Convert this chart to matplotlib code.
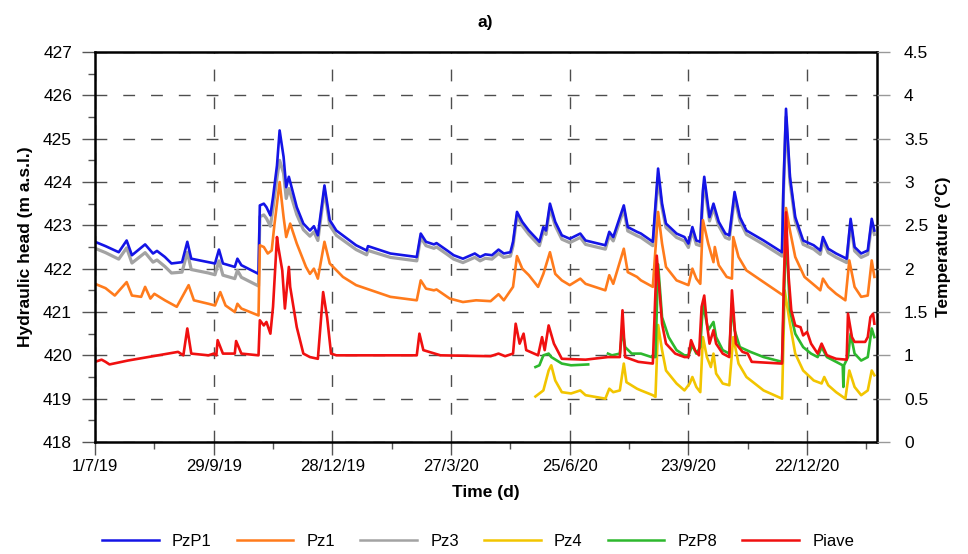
import numpy as np
import pandas as pd
import matplotlib
matplotlib.use('Agg')
import matplotlib.pyplot as plt
import matplotlib.dates as mdates
from matplotlib.lines import Line2D
from matplotlib.ticker import FormatStrFormatter

plt.rcParams['font.family'] = ['Liberation Sans', 'DejaVu Sans']

START = pd.Timestamp('2019-07-01')
END_DAY = 593

# time axis ticks (days since 1/7/19)
tick_days = [0, 90, 180, 270, 360, 450, 540]
tick_labels = ['1/7/19', '29/9/19', '28/12/19', '27/3/20', '25/6/20', '23/9/20', '22/12/20']
minor_days = [45, 135, 225, 315, 405, 495, 585]

# PzP1 and Pz3 are logged on the same days
head_day = [0, 8, 18, 24, 28, 38, 44, 47, 53, 58, 66, 70, 73, 86, 91, 94, 97, 106, 108, 111,
            124, 125, 128, 130, 133, 135, 138, 140, 143, 145, 147, 153, 158, 163, 166, 169, 174,
            178, 183, 198, 206, 207, 224, 244, 247, 251, 257, 259, 267, 272, 279, 288, 292,
            296, 301, 306, 310, 315, 317, 320, 324, 329, 337, 340, 342, 345, 349, 354, 360,
            368, 372, 387, 390, 393, 401, 404, 411, 414, 423, 427, 430, 433, 441, 447, 450,
            453, 456, 459, 461, 462, 466, 469, 473, 478, 481, 485, 489, 494, 507, 521, 522,
            524, 527, 531, 537, 545, 550, 552, 556, 562, 570, 573, 576, 581, 586, 589, 591]
pzp1 = [422.62, 422.52, 422.38, 422.65, 422.31, 422.56, 422.35, 422.41, 422.27, 422.12, 422.15,
        422.62, 422.23, 422.15, 422.12, 422.44, 422.12, 422.04, 422.23, 422.08, 421.88,
        423.46, 423.50, 423.42, 423.23, 423.65, 424.38, 425.19, 424.58, 423.88, 424.12, 423.42,
        423.04, 422.88, 422.98, 422.77, 423.92, 423.12, 422.88, 422.54, 422.42, 422.52, 422.35,
        422.27, 422.81, 422.62, 422.56, 422.59, 422.42, 422.31, 422.23, 422.35, 422.27, 422.33,
        422.31, 422.44, 422.35, 422.38, 422.62, 423.31, 423.08, 422.88, 422.62, 422.96, 422.88,
        423.50, 423.08, 422.77, 422.69, 422.81, 422.65, 422.54, 422.85, 422.73, 423.46, 422.96,
        422.85, 422.81, 422.62, 424.31, 423.50, 423.04, 422.81, 422.73, 422.58, 422.96, 422.65,
        422.62, 423.81, 424.12, 423.19, 423.50, 423.08, 422.81, 422.77, 423.77, 423.19, 422.88,
        422.65, 422.38, 423.81, 425.69, 424.12, 423.19, 422.65, 422.54, 422.42, 422.73, 422.46,
        422.35, 422.23, 423.15, 422.50, 422.35, 422.42, 423.15, 422.88]
pz3 = [422.47, 422.37, 422.22, 422.48, 422.13, 422.37, 422.15, 422.20, 422.05, 421.90, 421.92,
       422.38, 421.98, 421.90, 421.86, 422.18, 421.85, 421.77, 421.96, 421.80, 421.60,
       423.20, 423.24, 423.16, 422.98, 423.40, 424.10, 424.50, 424.20, 423.62, 423.85, 423.25,
       422.90, 422.75, 422.85, 422.65, 423.80, 423.00, 422.77, 422.44, 422.32, 422.42, 422.26,
       422.18, 422.72, 422.53, 422.47, 422.50, 422.33, 422.22, 422.14, 422.26, 422.18, 422.24,
       422.22, 422.35, 422.26, 422.29, 422.53, 423.22, 422.99, 422.79, 422.53, 422.87, 422.79,
       423.40, 422.99, 422.68, 422.60, 422.72, 422.56, 422.45, 422.76, 422.64, 423.37, 422.87,
       422.76, 422.72, 422.53, 424.10, 423.40, 422.95, 422.72, 422.64, 422.49, 422.87, 422.56,
       422.53, 423.70, 423.95, 423.10, 423.40, 422.99, 422.72, 422.68, 423.65, 423.10, 422.79,
       422.56, 422.29, 423.70, 425.50, 424.00, 423.10, 422.56, 422.45, 422.33, 422.64, 422.37,
       422.26, 422.14, 423.05, 422.41, 422.26, 422.33, 423.05, 422.79]

pz1_day = [0, 8, 15, 24, 28, 35, 38, 42, 45, 53, 62, 71, 75, 86, 91, 95, 99, 106, 108, 111, 124,
           125, 128, 131, 134, 136, 140, 143, 145, 148, 153, 160, 163, 166, 169, 174, 178, 188,
           198, 224, 244, 247, 251, 257, 259, 269, 279, 289, 300, 306, 310, 317, 320, 324, 329,
           336, 340, 345, 349, 354, 360, 368, 372, 387, 390, 393, 401, 404, 411, 414, 423, 427,
           430, 433, 441, 450, 453, 456, 459, 461, 465, 469, 470, 473, 479, 483, 484, 488, 494,
           507, 522, 524, 527, 531, 538, 547, 550, 552, 556, 562, 569, 572, 576, 581, 586, 589, 591]
pz1 = [421.65, 421.55, 421.38, 421.69, 421.38, 421.35, 421.58, 421.31, 421.42, 421.27, 421.12,
       421.62, 421.27, 421.19, 421.15, 421.46, 421.15, 421.00, 421.19, 421.08, 420.92,
       422.54, 422.50, 422.35, 422.42, 423.00, 424.00, 423.19, 422.73, 423.04, 422.58, 422.04,
       421.88, 422.00, 421.77, 422.62, 422.12, 421.81, 421.62, 421.35, 421.27, 421.73, 421.54,
       421.50, 421.52, 421.31, 421.23, 421.27, 421.25, 421.41, 421.27, 421.58, 422.29, 422.00,
       421.85, 421.58, 421.88, 422.38, 421.88, 421.73, 421.62, 421.77, 421.65, 421.50, 421.85,
       421.65, 422.46, 421.92, 421.81, 421.73, 421.58, 423.31, 422.58, 422.04, 421.73, 421.62,
       422.00, 421.77, 421.65, 423.12, 422.58, 422.15, 422.50, 422.08, 421.81, 421.77, 422.73,
       422.27, 421.96, 421.69, 421.38, 423.40, 422.88, 422.27, 421.81, 421.58, 421.50, 421.77,
       421.58, 421.42, 421.27, 422.19, 421.58, 421.35, 421.38, 422.19, 421.81]

piave_day = [0, 5, 8, 11, 25, 63, 67, 70, 73, 86, 90, 92, 93, 97, 106, 107, 111, 124, 125, 128,
             130, 133, 135, 138, 139, 142, 144, 147, 148, 153, 158, 163, 169, 173, 176, 179, 183,
             244, 246, 249, 262, 300, 306, 311, 317, 319, 322, 325, 327, 336, 339, 341, 344, 348,
             354, 372, 389, 398, 400, 402, 412, 423, 426, 430, 433, 440, 447, 450, 452, 455, 458,
             460, 462, 464, 466, 469, 471, 476, 481, 483, 486, 491, 495, 498, 521, 522, 524, 526,
             528, 531, 535, 537, 540, 543, 548, 551, 555, 562, 570, 571, 574, 576, 584, 586, 588,
             590, 591]
piave = [419.85, 419.90, 419.85, 419.79, 419.88, 420.08, 420.00, 420.62, 420.04, 420.00, 420.04,
         420.00, 420.35, 420.04, 420.04, 420.33, 420.04, 420.00, 420.81, 420.69, 420.77, 420.50,
         421.12, 422.73, 422.50, 421.96, 421.08, 422.04, 421.58, 420.65, 420.04, 419.96, 419.92,
         421.46, 420.88, 420.04, 420.00, 420.00, 420.50, 420.12, 420.00, 419.98, 420.04, 419.98,
         420.04, 420.73, 420.27, 420.50, 420.12, 420.00, 420.42, 420.12, 420.69, 420.27, 419.92,
         419.90, 419.96, 419.96, 421.04, 419.96, 419.85, 419.81, 422.30, 420.73, 420.27, 420.04,
         419.96, 419.96, 420.35, 420.12, 420.00, 421.12, 421.38, 420.73, 420.27, 420.58, 420.27,
         420.04, 419.96, 421.50, 420.27, 420.08, 420.04, 419.85, 419.81, 421.19, 423.30, 421.81,
         421.04, 420.69, 420.65, 420.46, 420.54, 420.27, 420.04, 420.27, 420.00, 419.92, 419.90,
         420.96, 420.42, 420.31, 420.31, 420.42, 420.88, 420.96, 420.73]

# PzP8 has a gap in the record (nan)
pzp8_day = [334, 337, 340, 344, 346, 354, 361, 374, 375, 389, 392, 398, 400, 402, 407, 414, 422,
            425, 427, 430, 435, 441, 447, 450, 453, 456, 459, 461, 465, 469, 471, 476, 481, 483,
            485, 489, 497, 507, 521, 524, 527, 531, 537, 543, 548, 551, 555, 562, 567, 567.5,
            568, 571, 573, 576, 581, 586, 589, 591]
pzp8 = [419.73, 419.77, 420.00, 420.04, 419.96, 419.81, 419.77, 419.79, np.nan, 420.04, 420.00,
        420.04, 420.58, 420.19, 420.04, 420.04, 419.96, 419.96, 422.10, 420.88, 420.42, 420.12,
        420.00, 420.00, 420.23, 420.04, 420.19, 421.19, 420.58, 420.77, 420.42, 420.12, 420.04,
        421.19, 420.58, 420.19, 420.08, 419.96, 419.85, 422.88, 421.04, 420.50, 420.19, 420.04,
        419.96, 420.19, 419.96, 419.85, 419.77, 419.27, 419.77, 419.96, 420.50, 420.04, 419.88,
        419.96, 420.62, 420.42]

pz4_day = [334, 340, 344, 346, 349, 354, 361, 368, 372, 387, 390, 393, 398, 401, 403, 411, 414,
           423, 425, 427, 430, 433, 441, 447, 451, 453, 456, 459, 461, 464, 467, 469, 471, 476,
           481, 484, 488, 494, 507, 521, 523, 527, 531, 537, 545, 551, 553, 556, 562, 569, 572,
           576, 581, 586, 589, 591]
pz4 = [419.05, 419.19, 419.65, 419.77, 419.42, 419.15, 419.12, 419.19, 419.08, 419.00, 419.23,
       419.15, 419.19, 419.81, 419.38, 419.23, 419.19, 419.08, 419.04, 420.70, 420.12, 419.65,
       419.35, 419.19, 419.35, 419.50, 419.27, 419.15, 420.42, 419.96, 419.73, 420.04, 419.58,
       419.35, 419.31, 420.42, 419.81, 419.50, 419.19, 419.00, 421.50, 420.73, 420.04, 419.65,
       419.42, 419.35, 419.50, 419.31, 419.15, 419.00, 419.65, 419.27, 419.08, 419.19, 419.65,
       419.54]

series_names = ['PzP1', 'Pz1', 'Pz3', 'Pz4', 'PzP8', 'Piave']
series_colors = ['#1414e6', '#ff7b1c', '#a3a3a3', '#f2c500', '#2db82d', '#f01010']

t0 = mdates.date2num(START.to_pydatetime())


def to_num(days):
    return t0 + np.asarray(days, dtype=float)


fig = plt.figure(figsize=(9.68, 5.54), dpi=100)
ax = fig.add_axes([95 / 968, 112 / 554, 782 / 968, 390 / 554])

lw = 1.9
ax.plot(to_num(head_day), pz3, color=series_colors[2], lw=lw + 0.4)
ax.plot(to_num(head_day), pzp1, color=series_colors[0], lw=lw)
ax.plot(to_num(pz1_day), pz1, color=series_colors[1], lw=lw)
ax.plot(to_num(pz4_day), pz4, color=series_colors[3], lw=lw)
ax.plot(to_num(pzp8_day), pzp8, color=series_colors[4], lw=lw)
ax.plot(to_num(piave_day), piave, color=series_colors[5], lw=lw)

ax.set_xlim(to_num(0), to_num(END_DAY))
ax.set_ylim(418, 427)
ax.set_yticks(np.arange(418, 428, 1))
ax.set_yticks(np.arange(418.5, 427, 1), minor=True)
ax.set_xticks(to_num(tick_days))
ax.set_xticklabels(tick_labels, fontsize=12)
ax.set_xticks(to_num(minor_days), minor=True)

ax.grid(True, which='major', color='#4d4d4d', lw=1.0, linestyle=(0, (8.5, 11.5)))
ax.tick_params(which='major', direction='out', length=9.5, width=1, color='#555555',
               labelsize=12.5)
ax.tick_params(axis='x', which='major', pad=3, labelsize=12)
ax.tick_params(axis='y', which='major', pad=7)
ax.tick_params(which='minor', direction='out', length=5, width=1, color='#555555')
for s in ax.spines.values():
    s.set_linewidth(1.8)
    s.set_color('black')

ax2 = ax.twinx()
ax2.set_ylim(0, 4.5)
ax2.set_yticks(np.arange(0, 4.51, 0.5))
ax2.yaxis.set_major_formatter(FormatStrFormatter('%g'))
ax2.tick_params(direction='out', length=9.5, width=1, color='#999999', labelsize=12.5, pad=10)
for s in ax2.spines.values():
    s.set_visible(False)

ax.set_ylabel('Hydraulic head (m a.s.l.)', fontsize=12.5, fontweight='bold', labelpad=7)
ax2.set_ylabel('Temperature (°C)', fontsize=12.5, fontweight='bold', labelpad=5)
ax.set_xlabel('Time (d)', fontsize=12.5, fontweight='bold', labelpad=8)
fig.text(485 / 968, 1 - 22 / 554, 'a)', ha='center', va='center', fontsize=12.5,
         fontweight='bold')

handles = [Line2D([], [], color=c, lw=1.8) for c in series_colors]
fig.legend(handles, series_names, loc='center', bbox_to_anchor=(478 / 968, 1 - 541 / 554),
           ncol=6, frameon=False, prop={'size': 12},
           handlelength=3.4, handletextpad=0.8, columnspacing=1.5)

fig.savefig('out.png', dpi=100)
